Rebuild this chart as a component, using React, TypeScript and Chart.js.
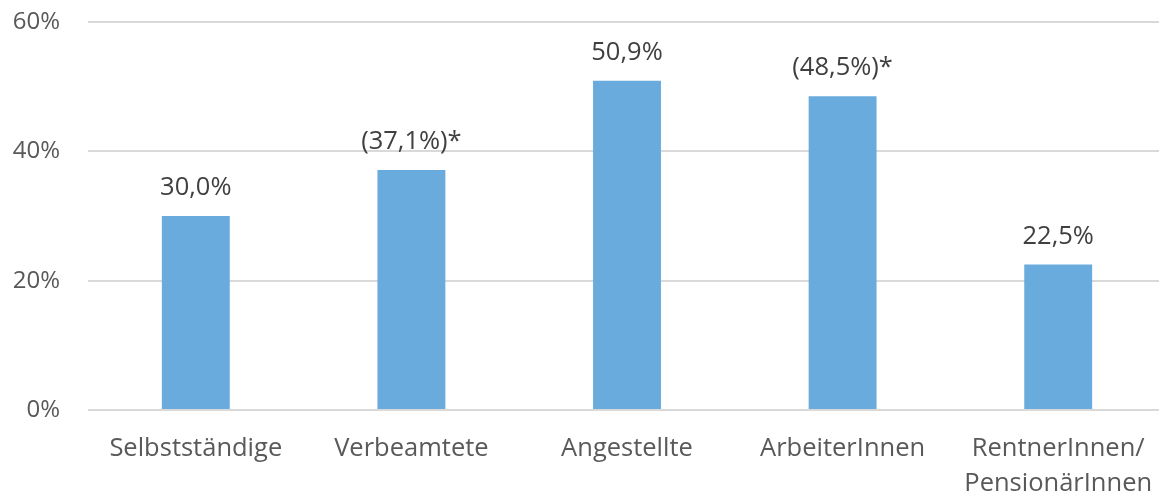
import React, { useEffect, useRef } from "react";
import { Chart, registerables } from "chart.js";

Chart.register(...registerables);

const categories: (string | string[])[] = [
  "Selbstständige",
  "Verbeamtete",
  "Angestellte",
  "ArbeiterInnen",
  ["RentnerInnen/", "PensionärInnen"],
];
const values = [30.0, 37.1, 50.9, 48.5, 22.5];
const valueLabels = ["30,0%", "(37,1%)*", "50,9%", "(48,5%)*", "22,5%"];
const yTicks = [0, 20, 40, 60];

const FONT = "'Open Sans', 'Noto Sans', sans-serif";

const labelPlugin = {
  id: "valueLabels",
  afterDatasetsDraw(chart: any) {
    const ctx = chart.ctx;
    const meta = chart.getDatasetMeta(0);
    ctx.save();
    ctx.font = `25.5px ${FONT}`;
    ctx.fillStyle = "#404040";
    ctx.textAlign = "center";
    ctx.textBaseline = "alphabetic";
    meta.data.forEach((bar: any, i: number) => {
      ctx.fillText(valueLabels[i], bar.x, bar.y - 21);
    });
    ctx.restore();
  },
};

export default function App() {
  const ref = useRef<HTMLCanvasElement | null>(null);
  useEffect(() => {
    if (!ref.current) return;
    const chart = new Chart(ref.current, {
      type: "bar",
      data: {
        labels: categories,
        datasets: [
          {
            data: values,
            backgroundColor: "#6AABDD",
            borderWidth: 0,
            categoryPercentage: 1,
            barPercentage: 0.315,
          },
        ],
      },
      options: {
        animation: false,
        responsive: false,
        maintainAspectRatio: false,
        layout: { padding: { top: 22, right: 0, bottom: 0, left: 0 } },
        plugins: {
          legend: { display: false },
          tooltip: { enabled: false },
        },
        scales: {
          x: {
            grid: { display: false, drawTicks: false },
            border: { display: false },
            ticks: {
              color: "#595959",
              font: { family: FONT, size: 25.5, lineHeight: 1.34 },
              padding: 22,
              maxRotation: 0,
              autoSkip: false,
            },
            afterFit: (s: any) => {
              s.height = 82;
              s.paddingLeft = 0;
              s.paddingRight = 0;
              s.paddingTop = 0;
              s.paddingBottom = 0;
            },
          },
          y: {
            min: 0,
            max: 60,
            grid: { color: "#D9D9D9", lineWidth: 2, drawTicks: false },
            border: { display: false },
            afterBuildTicks: (s: any) => {
              s.ticks = yTicks.map((v) => ({ value: v }));
            },
            ticks: {
              color: "#595959",
              font: { family: FONT, size: 24 },
              padding: 28,
              callback: (v: any) => `${v}%`,
            },
            afterFit: (s: any) => {
              s.width = 88;
              s.paddingTop = 0;
              s.paddingBottom = 0;
              s.paddingLeft = 0;
              s.paddingRight = 0;
            },
          },
        },
      },
      plugins: [labelPlugin],
    });
    return () => chart.destroy();
  }, []);
  return (
    <div
      style={{
        position: "fixed",
        left: 0,
        top: 0,
        width: 1159,
        height: 492,
        overflow: "hidden",
        background: "#fff",
      }}
    >
      <canvas ref={ref} width={1166} height={492} style={{ display: "block" }} />
    </div>
  );
}
